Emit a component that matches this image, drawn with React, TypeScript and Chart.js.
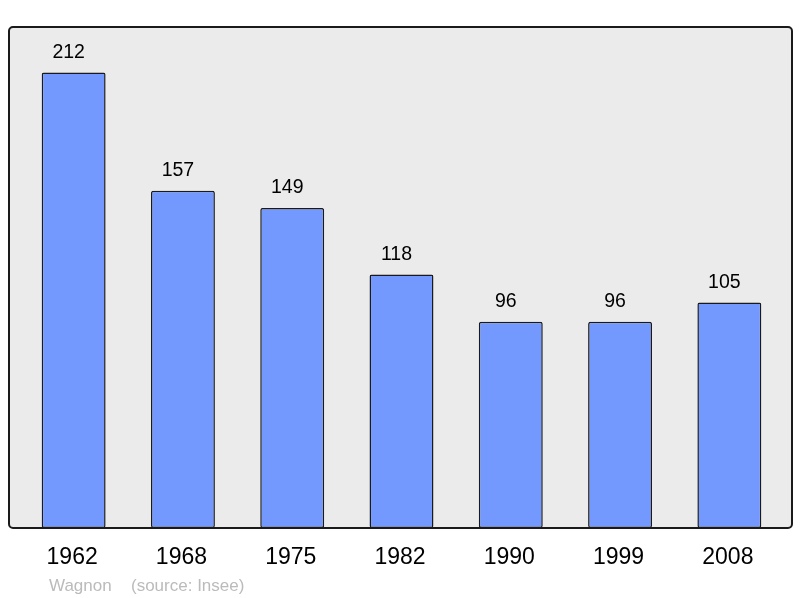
import React, { useEffect, useRef } from "react";
import { Chart, registerables } from "chart.js";

Chart.register(...registerables);

const years = ["1962", "1968", "1975", "1982", "1990", "1999", "2008"];
const population = [212, 157, 149, 118, 96, 96, 105];
const footerAuthor = "Wagnon";
const footerSource = "(source: Insee)";

const FONT = '"Liberation Sans", Arial, sans-serif';

const decor = {
  id: "decor",
  beforeDatasetsDraw(chart: any) {
    const { ctx, chartArea } = chart;
    ctx.save();
    ctx.fillStyle = "#ebebeb";
    const x0 = chartArea.left - 10;
    const x1 = chartArea.right + 8;
    ctx.beginPath();
    (ctx as any).roundRect(x0, chartArea.top, x1 - x0, chartArea.bottom - chartArea.top, 4);
    ctx.fill();
    ctx.restore();
  },
  afterDatasetsDraw(chart: any) {
    const { ctx, chartArea, scales } = chart;
    ctx.save();
    const x0 = chartArea.left - 10;
    const x1 = chartArea.right + 8;
    ctx.strokeStyle = "#1a1a1a";
    ctx.lineWidth = 2;
    ctx.beginPath();
    (ctx as any).roundRect(x0, chartArea.top, x1 - x0, chartArea.bottom - chartArea.top, 4);
    ctx.stroke();

    const meta = chart.getDatasetMeta(0);
    ctx.fillStyle = "#000";
    ctx.textAlign = "center";
    ctx.textBaseline = "middle";
    ctx.font = `19.5px ${FONT}`;
    meta.data.forEach((bar: any, i: number) => {
      ctx.fillText(String(population[i]), bar.x - 5, bar.y - 20);
    });

    ctx.font = `23px ${FONT}`;
    years.forEach((y, i) => {
      ctx.fillText(y, scales.x.getPixelForValue(i) - 1.5, chartArea.bottom + 30);
    });

    ctx.fillStyle = "#bbbbbb";
    ctx.textAlign = "left";
    ctx.font = `17px ${FONT}`;
    ctx.fillText(footerAuthor, 49, chartArea.bottom + 58);
    ctx.fillText(footerSource, 131, chartArea.bottom + 58);
    ctx.restore();
  },
};

export default function App() {
  const ref = useRef<HTMLCanvasElement>(null);
  useEffect(() => {
    if (!ref.current) return;
    const chart = new Chart(ref.current, {
      type: "bar",
      data: {
        labels: years,
        datasets: [
          {
            data: population,
            backgroundColor: "#7399ff",
            borderColor: "#1a1a1a",
            borderWidth: 1.5,
            borderRadius: 2,
            borderSkipped: false,
            barPercentage: 0.585,
            categoryPercentage: 1,
          },
        ],
      },
      options: {
        responsive: false,
        animation: false,
        layout: { padding: { left: 19, right: 16, top: 27, bottom: 70 } },
        plugins: { legend: { display: false }, tooltip: { enabled: false } },
        scales: {
          x: { display: false },
          y: { display: false, min: 0, max: 233.2 },
        },
      },
      plugins: [decor],
    });
    return () => chart.destroy();
  }, []);
  return (
    <div style={{ position: "fixed", left: 0, top: 0, width: 800, height: 598, background: "#fff" }}>
      <canvas ref={ref} width={800} height={598} />
    </div>
  );
}
